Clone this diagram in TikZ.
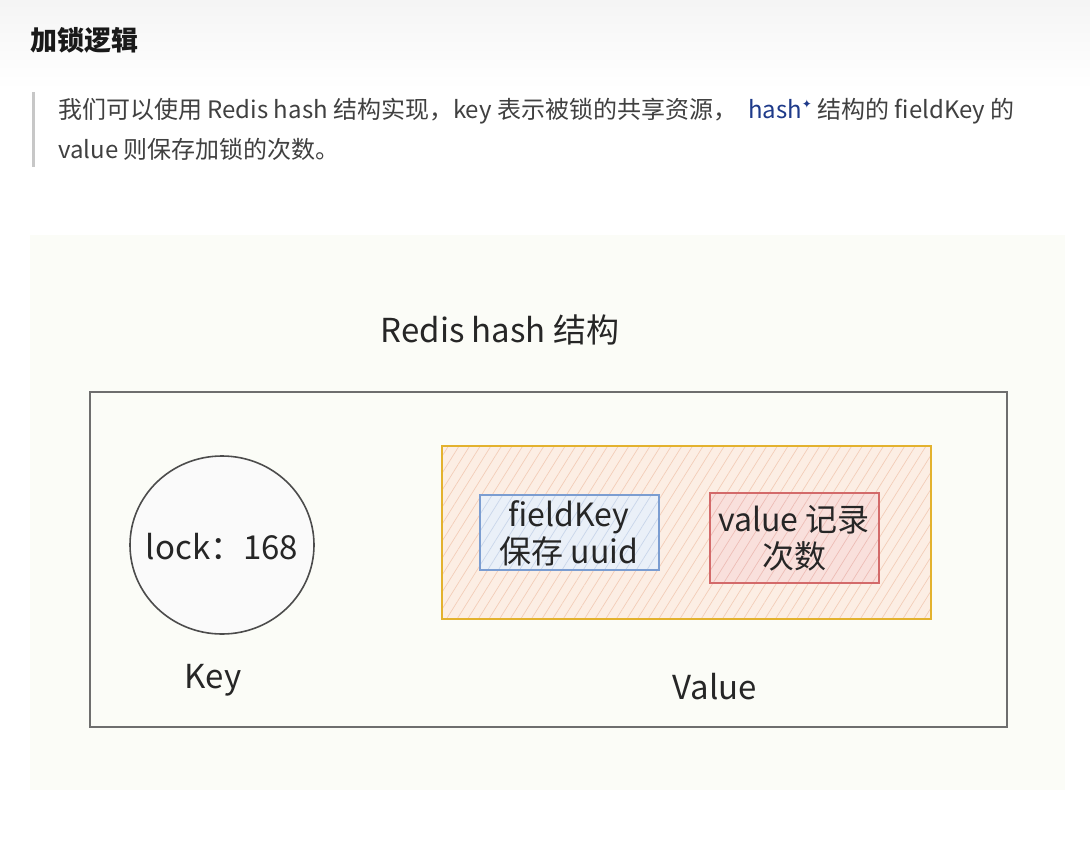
\documentclass[tikz,border=0pt]{standalone}
\usepackage{fontspec}
\setmainfont{Noto Sans CJK SC}
\newfontfamily\symfont{DejaVu Sans}
\usetikzlibrary{patterns.meta}
\definecolor{txt}{HTML}{404040}
\definecolor{linkblue}{HTML}{1E3A8A}
\definecolor{diagbg}{HTML}{FBFCF7}
\definecolor{outerline}{HTML}{6E6E6E}
\definecolor{gold}{HTML}{E3B22E}
\definecolor{peach}{HTML}{FCEEE4}
\definecolor{peachline}{HTML}{F3CDB8}
\definecolor{bluel}{HTML}{7B9DD1}
\definecolor{bluef}{HTML}{EAF0F8}
\definecolor{bluehatch}{HTML}{C9D6EA}
\definecolor{redl}{HTML}{D36A6A}
\definecolor{redf}{HTML}{F9E0DC}
\definecolor{redhatch}{HTML}{EDBDB6}
\tikzset{
  hand/.style={font=\fontsize{33}{37}\selectfont, text=black!85},
  hatch/.style={pattern={Lines[angle=58,distance=9pt,line width=0.7pt]}},
  innerbox/.style={line width=1.3pt, align=center, inner sep=0pt, font=\fontsize{32}{37}\selectfont, text=black!85},
  para/.style={anchor=west, font=\fontsize{24}{28}\selectfont, text=txt, inner sep=0pt}
}
\begin{document}
\begin{tikzpicture}[x=1pt,y=-1pt]
\useasboundingbox (0,0) rectangle (1090,841);
\fill[white] (0,0) rectangle (1090,841);
\shade[top color=black!4, bottom color=white] (0,0) rectangle (1090,90);
% header
\node[anchor=west, font=\fontsize{27}{30}\selectfont\bfseries, text=black!90] (title) at (27,40) {加锁逻辑};
\fill[black!22] (32,92) rectangle (35,167);
\node[para] (line1) at (58,111)
  {我们可以使用 Redis hash 结构实现，key 表示被锁的共享资源，\ \ \textcolor{linkblue}{hash\raisebox{0.4em}{\symfont\fontsize{12}{12}\selectfont✦}} 结构的 fieldKey 的};
\node[para] (line2) at (58,149)
  {value 则保存加锁的次数。};
% diagram background
\fill[diagbg] (30,235) rectangle (1065,790);
\node[hand] (dtitle) at (500,330) {Redis hash 结构};
\draw[outerline, line width=1.8pt] (90,392) rectangle (1007,727);
% key circle
\draw[black!70, line width=1.6pt, fill=black!2] (222,545) ellipse [x radius=92, y radius=89];
\node[hand] (lock) at (222,547) {lock：168};
\node[hand] (key) at (213,680) {Key};
% value box
\fill[peach] (442,446) rectangle (931,619);
\fill[hatch, pattern color=peachline] (442,446) rectangle (931,619);
\draw[gold, line width=2pt] (442,446) rectangle (931,619);
% fieldKey box
\fill[bluef] (480,495) rectangle (659,570);
\fill[hatch, pattern color=bluehatch] (480,495) rectangle (659,570);
\draw[bluel, line width=1.3pt] (480,495) rectangle (659,570);
\node[innerbox] (fk) at (569,533) {fieldKey\\保存 uuid};
% value record box
\fill[redf] (710,493) rectangle (879,583);
\fill[hatch, pattern color=redhatch] (710,493) rectangle (879,583);
\draw[redl, line width=1.3pt] (710,493) rectangle (879,583);
\node[innerbox] (vr) at (794,538) {value 记录\\次数};
\node[hand] (val) at (715,687) {Value};
\end{tikzpicture}
\end{document}
